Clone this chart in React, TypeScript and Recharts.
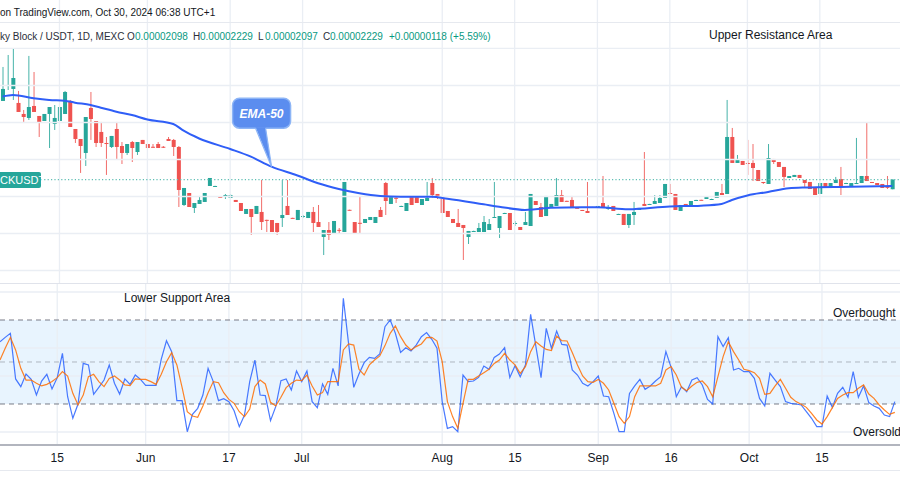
import React from 'react';
import { ComposedChart, Bar, Line, XAxis, YAxis, ReferenceLine, ReferenceArea, ReferenceDot } from 'recharts';

// Price values in units of 0.000001 USDT (µUSDT)
const opens = [32.91,34.93,34.53,32.64,31.15,30.61,32.23,30.88,30.2,31.15,
29.8,30.2,31.15,32.91,29.12,27.77,25.88,31.96,30.2,28.72,
27.23,26.69,29.12,26.82,25.88,27.36,26.01,27.64,27.09,26.72,
27.09,26.72,27.77,27.64,26.69,18.85,20.47,18.45,18.99,19.26,
21.42,21.4,19.95,19.93,19.8,19.53,19.12,17.64,18.31,17.64,
17.91,16.84,16.82,16.42,17.09,18.72,17.11,16.82,17.23,17.09,
17.91,16.55,14.53,15.47,15.07,15.49,15.2,18.2,16.55,16.44,
16.42,16.82,16.42,18.18,21.82,18.99,19.82,18.7,18.04,19.93,
19.93,18.85,19.39,21.82,20.34,19.66,18.04,16.96,16.42,16.15,
14.53,15.32,15.2,15.2,15.47,17.21,15.74,17.75,17.77,16.4,
15.88,16.15,16.01,19.39,18.58,17.36,18.45,18.72,20.2,19.41,
19.53,18.47,18.18,18.04,18.56,18.58,19.12,18.43,18.72,17.62,
17.64,16.15,17.5,18.18,18.99,18.97,18.99,19.12,19.8,20.47,
20.34,18.04,18.99,18.72,19.5,19.55,19.66,19.64,19.8,20.47,
20.34,28.04,24.53,24.8,24.53,24.53,23.58,21.96,21.69,25.07,
24.66,23.99,22.5,22.64,22.91,22.23,21.96,21.15,20.34,21.82,
21.28,21.82,22.36,21.8,21.28,21.8,21.82,22.77,21.96,21.82,
21.69,21.3,20.98];
const highs = [37.5,39.12,39.93,34.26,31.69,38.99,36.82,30.88,31.15,32.09,
32.36,32.09,34.26,33.04,29.12,27.77,30.74,34.12,30.2,30.07,
28.04,28.18,30.07,27.36,27.09,27.5,27.36,27.64,27.09,27.09,
27.36,26.82,28.04,27.77,26.82,21.15,20.47,19.12,20.07,20.47,
22.5,21.45,19.98,20.34,20.34,19.53,19.12,18.31,18.31,18.72,
22.23,16.86,16.82,16.42,22.23,22.23,17.13,18.18,17.5,17.91,
18.58,18.85,15.47,16.55,16.69,15.74,21.96,18.22,16.55,20.07,
16.96,17.23,17.23,18.58,21.96,19.93,19.93,18.75,19.12,19.93,
19.93,19.66,21.96,22.5,20.34,19.66,18.04,16.96,18.31,16.15,
15.34,15.38,16.42,17.36,16.96,21.96,17.36,17.8,17.77,16.69,
15.88,17.91,20.34,19.39,19.12,20.07,18.99,22.5,20.88,19.43,
20.07,18.5,18.18,21.96,18.6,18.72,22.77,18.85,18.72,17.66,
17.64,17.64,19.26,18.45,26.01,19.0,20.2,20.2,21.69,21.69,
20.34,18.85,18.99,19.39,19.55,19.56,19.93,19.7,20.61,21.69,
33.04,29.26,25.61,24.8,27.64,27.09,23.58,21.96,27.09,25.07,
24.66,23.99,22.77,22.91,22.91,22.23,21.96,21.15,21.82,21.82,
21.82,22.64,23.99,21.85,21.82,27.91,22.77,29.93,21.96,21.82,
21.69,22.77,22.29];
const lows = [32.91,34.39,33.04,31.42,30.07,30.34,31.42,28.04,30.2,26.55,
28.99,30.2,31.15,29.39,27.23,23.18,24.12,27.64,26.69,26.69,
22.91,26.55,25.07,24.39,25.61,24.66,25.61,27.09,26.55,26.55,
26.55,26.55,27.5,25.47,18.58,18.72,18.58,17.77,18.99,19.26,
21.42,21.35,19.9,19.66,19.8,19.26,18.04,17.64,14.8,17.64,
15.47,15.2,15.2,14.8,15.88,17.5,17.05,16.82,17.09,17.09,
15.2,15.88,12.09,14.12,15.07,14.93,15.2,18.1,15.07,15.07,
16.42,16.82,16.42,17.23,17.5,18.99,19.12,18.68,18.04,18.85,
19.12,18.85,19.39,19.8,19.66,17.77,17.23,16.42,15.88,11.42,
13.58,15.3,15.2,15.2,15.47,17.2,14.39,17.74,15.47,16.01,
15.47,16.15,16.01,18.85,17.23,17.36,18.45,18.72,19.26,19.35,
18.58,18.4,18.04,17.77,18.55,18.58,18.45,18.18,18.04,17.6,
16.15,15.74,16.15,18.18,18.72,18.95,18.99,19.12,19.8,20.34,
18.18,18.04,18.58,18.72,19.5,19.5,19.66,19.6,19.8,20.2,
20.34,24.53,24.53,24.26,22.91,22.09,22.09,21.69,21.69,24.39,
23.99,21.28,22.5,22.64,22.5,21.28,21.01,20.2,20.34,21.28,
21.28,21.82,20.2,21.78,21.28,21.8,21.82,22.09,21.82,21.55,
21.15,21.01,20.97];
const closes = [34.53,35.07,36.01,31.42,30.74,32.09,31.42,29.93,31.15,32.09,
30.61,32.09,34.12,29.39,27.77,26.82,30.74,30.47,27.23,27.23,
27.09,28.18,26.69,25.88,27.09,26.55,27.36,27.09,26.55,26.69,
26.55,26.69,27.5,26.69,20.88,21.15,18.58,19.12,19.53,20.47,
22.5,21.42,19.93,20.2,20.2,19.26,18.04,18.31,17.23,18.72,
16.55,16.82,15.2,15.2,17.5,17.5,17.09,18.18,17.36,17.91,
16.42,15.88,15.47,14.8,16.69,15.47,21.96,18.18,15.07,16.42,
16.96,17.23,17.23,17.23,19.39,19.93,19.8,18.72,19.12,18.85,
19.12,19.66,19.8,20.2,19.93,17.77,17.23,16.42,15.88,15.74,
15.34,15.34,15.74,16.55,16.28,17.23,17.36,17.77,15.47,16.42,
15.47,16.55,20.34,18.85,17.23,20.07,18.99,20.2,19.26,19.39,
18.58,18.45,18.04,17.77,18.58,18.72,18.45,18.45,18.04,17.64,
16.15,17.64,17.91,18.45,18.72,18.99,19.39,19.8,21.69,20.34,
18.18,18.85,18.58,19.39,19.53,19.53,19.93,19.66,20.61,20.2,
28.04,24.53,25.07,24.26,24.39,23.85,22.09,21.82,25.2,24.66,
23.99,22.64,22.77,22.91,22.5,21.82,21.01,20.2,21.82,21.28,
21.82,22.23,21.28,21.82,21.82,21.82,22.77,22.09,21.85,21.55,
21.15,21.28,22.29];

// EMA-50 read at selected bars
const emaIdx = [0,2,6,9,12,14,17,19,22,25,28,33,35,38,44,48,52,57,61,65,69,73,77,83,86,93,96,101,103,106,112,115,121,129,135,139,141,144,148,152,155,164,172];
const emaVal = [33.51,33.72,33.27,33.04,32.95,32.68,32.36,32.0,31.46,31.01,30.41,29.8,28.89,27.84,26.42,25.38,24.03,22.84,21.78,21.01,20.43,20.07,19.97,19.97,19.7,18.95,18.62,18.18,18.27,18.49,18.54,18.54,18.27,18.65,18.76,18.99,19.53,20.14,20.61,21.11,21.22,21.32,21.42];

const stochK = [64.5,67.6,70.5,37.9,32.4,41.4,37.6,26.4,36.4,41.2,
30.7,38.8,56.2,25.2,9.8,20.0,49.0,47.9,26.9,31.9,
37.1,47.9,34.8,27.1,37.9,34.0,40.7,37.6,33.3,33.3,
33.3,52.1,65.2,57.4,22.4,22.4,0.2,12.6,16.9,26.4,
45.5,36.0,22.4,23.8,21.7,15.2,3.8,12.1,36.0,51.4,
26.4,26.0,8.1,18.1,36.7,37.9,30.0,43.6,36.0,43.6,
21.7,17.4,34.3,26.9,45.5,32.9,95.5,63.3,31.9,41.4,
49.5,53.3,52.6,55.7,75.2,80.0,70.5,56.9,60.2,57.9,
62.1,68.1,71.0,66.2,59.8,21.7,2.6,3.8,0.2,40.7,
36.0,36.4,39.0,47.1,44.8,53.3,55.7,60.2,39.0,47.4,
39.5,47.9,84.0,61.4,38.8,74.0,59.8,72.1,62.6,62.1,
44.3,40.7,34.8,32.9,36.0,40.0,25.7,25.2,13.3,0.2,
0.2,27.6,32.9,37.6,30.5,32.9,36.4,39.5,57.4,46.2,
25.2,32.4,28.8,37.1,38.8,33.6,23.3,20.0,68.1,61.0,
67.4,44.3,45.5,43.1,43.1,38.3,24.0,18.6,41.9,37.1,
32.4,21.7,20.5,20.0,19.3,14.5,9.8,3.8,3.8,25.7,
17.6,27.6,31.9,24.8,43.1,24.8,32.9,21.0,18.6,16.9,
12.1,11.0,21.7];
const stochD = [51.4,59.8,67.6,58.6,45.5,37.1,37.1,34.8,32.9,34.0,
36.0,38.8,43.1,40.0,27.6,19.3,26.4,39.5,41.2,36.0,
32.4,38.3,40.0,37.1,33.6,33.1,37.9,37.6,37.6,36.0,
34.0,41.2,50.2,56.7,47.9,31.9,14.5,11.4,10.5,18.6,
28.1,36.0,35.2,28.1,23.3,20.5,14.5,11.0,16.4,32.4,
37.1,34.3,21.2,18.6,24.8,31.7,34.8,37.1,36.7,40.7,
32.9,26.4,28.1,36.0,36.0,36.0,58.6,62.9,62.1,44.8,
40.7,47.9,51.4,54.3,61.7,70.5,75.7,68.1,62.1,58.6,
61.0,62.9,67.4,67.6,65.0,50.2,21.7,11.0,2.6,20.5,
37.6,37.6,40.0,42.4,44.8,49.0,51.4,56.2,51.4,47.9,
41.9,46.7,57.4,64.5,61.4,59.0,58.1,68.6,65.2,65.0,
56.7,47.9,40.0,36.0,35.5,37.6,34.8,30.0,20.5,11.0,
6.2,11.0,25.2,32.9,32.9,32.9,32.9,34.8,44.3,46.7,
40.7,31.9,29.5,32.9,35.5,36.4,32.4,25.2,39.5,53.8,
64.5,57.4,51.4,44.8,43.8,42.4,38.3,26.9,27.6,32.9,
37.6,31.2,24.8,21.7,19.8,17.6,13.3,8.6,5.7,11.0,
17.4,24.0,26.4,28.1,28.1,31.2,33.6,27.1,24.0,19.3,
15.7,12.6,14.0];

const tickIndex = [11, 28, 44, 58, 85, 99, 115, 129, 144, 158];
const tickLabels = ['15', 'Jun', '17', 'Jul', 'Aug', '15', 'Sep', '16', 'Oct', '15'];
const priceGrid = [10, 15, 20, 25, 30, 35, 40];
const stochGrid = [0, 40, 60, 100];
const lastPrice = 22.29;

const N = opens.length;
const rows = Array.from({ length: N + 1 }, (_, k) => {
  if (k >= N) return { k, hl: null, ema: null, sk: null, sd: null };
  const ei = emaIdx.indexOf(k);
  return {
    k, o: opens[k], h: highs[k], l: lows[k], c: closes[k],
    hl: [lows[k], highs[k]],
    ema: ei >= 0 ? emaVal[ei] : null,
    sk: stochK[k], sd: stochD[k],
  };
});

const GREEN = '#26a69a';
const RED = '#ef5350';
const GRID = '#eaeef4';
const FONT = '"Liberation Sans", Arial, sans-serif';

const Candle = (props: any) => {
  const { x, y, width, height, payload } = props;
  if (!payload || payload.o == null || x == null) return null;
  const top = Math.min(y, y + height);
  const h = Math.abs(height);
  const span = payload.h - payload.l;
  const py = (v: number) => (span > 0 ? top + ((payload.h - v) / span) * h : top);
  const color = payload.c >= payload.o ? GREEN : RED;
  const cx = x + width / 2;
  const bTop = py(Math.max(payload.o, payload.c));
  const bBot = py(Math.min(payload.o, payload.c));
  return (
    <g>
      <line x1={cx} x2={cx} y1={top} y2={top + h} stroke={color} strokeWidth={1} strokeOpacity={0.85} />
      <rect x={x} y={bTop} width={width} height={Math.max(1, bBot - bTop)} fill={color} />
    </g>
  );
};

const Callout = (props: any) => {
  const { cx, cy } = props;
  if (cx == null || cy == null) return null;
  const bx = cx - 39, by = cy - 68.5, bw = 58, bh = 30;
  const fill = '#5b8def';
  const edge = '#8db5f6';
  return (
    <g>
      <rect x={bx} y={by} width={bw} height={bh} rx={7} fill={fill} stroke={edge} strokeWidth={1.5} />
      <path d={`M${cx - 16},${by + bh - 1} L${cx},${cy} L${cx - 6},${by + bh - 1} Z`} fill={fill} />
      <path d={`M${cx - 16},${by + bh} L${cx},${cy} L${cx - 6},${by + bh}`} fill="none" stroke={edge} strokeWidth={1.2} />
      <text x={bx + bw / 2} y={by + bh / 2 + 4.5} textAnchor="middle" fill="#ffffff" fontSize={12} fontStyle="italic" fontWeight="bold" fontFamily={FONT}>EMA-50</text>
    </g>
  );
};

const fmtTick = (v: any) => {
  const i = tickIndex.indexOf(Number(v));
  return i >= 0 ? tickLabels[i] : '';
};

const abs = (left: number, top: number, extra: React.CSSProperties = {}): React.CSSProperties => ({
  position: 'absolute', left, top, whiteSpace: 'nowrap', ...extra,
});

export default function App() {
  return (
    <div style={{ position: 'absolute', left: 0, top: 0, width: 900, height: 500, background: '#ffffff', overflow: 'hidden', fontFamily: FONT, color: '#131722' }}>
      <div style={abs(0, 0)}>
        <ComposedChart width={900} height={283} data={rows} margin={{ top: 0, right: 0, bottom: 0, left: 0 }}>
          <XAxis dataKey="k" type="category" hide />
          <YAxis hide type="number" domain={[8.31, 46.55]} allowDataOverflow />
          {priceGrid.map((v) => (
            <ReferenceLine key={'pg' + v} y={v} stroke={GRID} strokeWidth={1.3} />
          ))}
          {tickIndex.map((t) => (
            <ReferenceLine key={'pv' + t} x={t} stroke={GRID} strokeWidth={1.3} />
          ))}
          <ReferenceLine y={lastPrice} stroke="#5fbfb4" strokeDasharray="1.2 2.2" strokeWidth={1.2} />
          <Bar dataKey="hl" barSize={4} shape={<Candle />} isAnimationActive={false} />
          <Line dataKey="ema" type="monotone" connectNulls stroke="#2f5ef7" strokeWidth={2} dot={false} activeDot={false} isAnimationActive={false} />
          <ReferenceDot x={52} y={24.03} r={0} shape={<Callout />} />
        </ComposedChart>
      </div>

      <div style={abs(0, 283)}>
        <ComposedChart width={900} height={217} data={rows} margin={{ top: 0, right: 0, bottom: 30, left: 0 }}>
          <XAxis dataKey="k" type="category" ticks={tickIndex} interval={0} tickFormatter={fmtTick} tickLine={false}
            axisLine={{ stroke: '#b2b5be', strokeWidth: 2 }} tick={{ fontSize: 12, fill: '#131722', fontFamily: FONT }} height={25} />
          <YAxis hide type="number" domain={[-9.29, 106.43]} allowDataOverflow />
          <ReferenceArea y1={20} y2={80} fill="#2196f3" fillOpacity={0.1} stroke="none" />
          {stochGrid.map((v) => (
            <ReferenceLine key={'sg' + v} y={v} stroke={GRID} strokeWidth={1.3} />
          ))}
          {tickIndex.map((t) => (
            <ReferenceLine key={'sv' + t} x={t} stroke={GRID} strokeWidth={1.3} />
          ))}
          <ReferenceLine y={80} stroke="#787b86" strokeDasharray="5 4" />
          <ReferenceLine y={50} stroke="#787b86" strokeOpacity={0.5} strokeDasharray="5 4" />
          <ReferenceLine y={20} stroke="#787b86" strokeDasharray="5 4" />
          <Line dataKey="sk" type="linear" stroke="#2962ff" strokeOpacity={0.85} strokeWidth={1.2} dot={false} activeDot={false} isAnimationActive={false} />
          <Line dataKey="sd" type="linear" stroke="#ff6d00" strokeOpacity={0.85} strokeWidth={1.2} dot={false} activeDot={false} isAnimationActive={false} />
        </ComposedChart>
      </div>

      <div style={abs(0, 22, { width: 900, height: 1, background: '#e6e9ef' })} />
      <div style={abs(0, 283, { width: 900, height: 1, background: '#e0e3eb' })} />
      <div style={abs(0, 470, { width: 900, height: 1, background: '#e6e9ef' })} />

      <div style={abs(0, 7, { fontSize: 10, color: '#131722' })}>on TradingView.com, Oct 30, 2024 06:38 UTC+1</div>
      <div style={abs(0, 31, { fontSize: 10, color: '#2a2e39' })}>ky Block / USDT, 1D, MEXC</div>
      <div style={abs(127, 31, { fontSize: 10, color: '#2a2e39' })}>O</div>
      <div style={abs(135, 31, { fontSize: 10, color: '#089981' })}>0.00002098</div>
      <div style={abs(193, 31, { fontSize: 10, color: '#2a2e39' })}>H</div>
      <div style={abs(200, 31, { fontSize: 10, color: '#089981' })}>0.00002229</div>
      <div style={abs(258, 31, { fontSize: 10, color: '#2a2e39' })}>L</div>
      <div style={abs(265, 31, { fontSize: 10, color: '#089981' })}>0.00002097</div>
      <div style={abs(323, 31, { fontSize: 10, color: '#2a2e39' })}>C</div>
      <div style={abs(330, 31, { fontSize: 10, color: '#089981' })}>0.00002229</div>
      <div style={abs(389, 31, { fontSize: 10, color: '#089981' })}>+0.00000118 (+5.59%)</div>

      <div style={abs(0, 172, { width: 41, height: 16, background: GREEN, color: '#ffffff', fontSize: 11, lineHeight: '16px', borderRadius: '0 2px 2px 0' })}>CKUSDT</div>

      <div style={abs(709, 28, { fontSize: 12, lineHeight: '14px' })}>Upper Resistance Area</div>
      <div style={abs(124, 291, { fontSize: 12, lineHeight: '14px' })}>Lower Support Area</div>
      <div style={abs(833, 306, { fontSize: 12, lineHeight: '14px' })}>Overbought</div>
      <div style={abs(853, 425, { fontSize: 12, lineHeight: '14px' })}>Oversold</div>
    </div>
  );
}
